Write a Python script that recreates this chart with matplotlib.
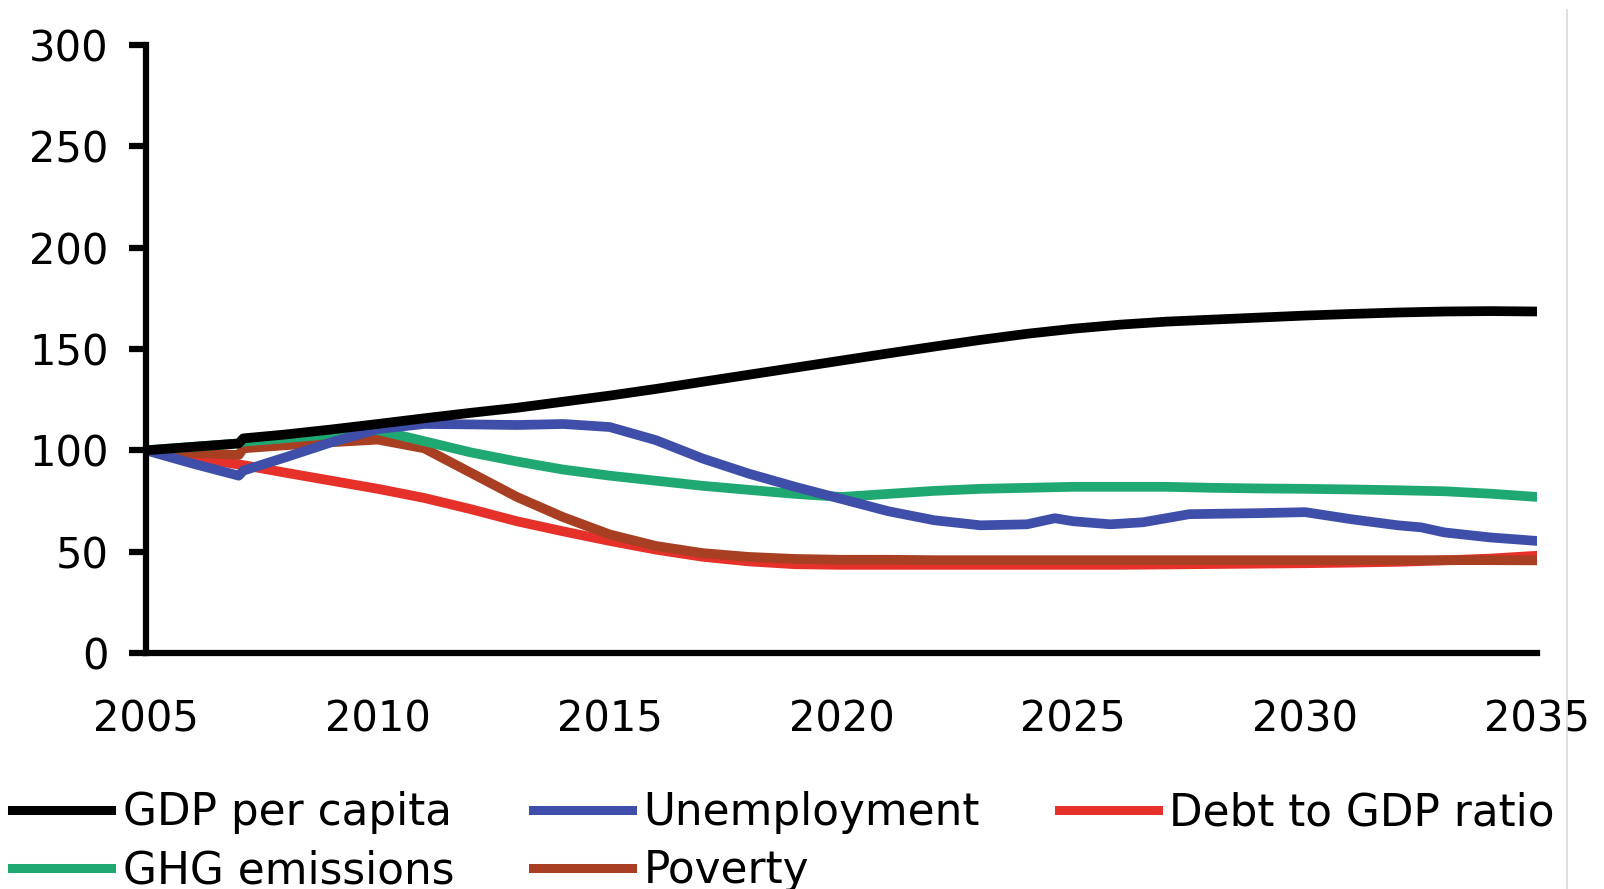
import matplotlib
matplotlib.use("Agg")
import matplotlib.pyplot as plt
from matplotlib.lines import Line2D

years = [2005, 2006, 2007, 2007.1, 2008, 2009, 2010, 2011, 2012, 2013, 2014,
         2015, 2016, 2017, 2018, 2019, 2020, 2021, 2022, 2023, 2024, 2025,
         2026, 2027, 2028, 2029, 2030, 2031, 2032, 2033, 2034, 2035]

gdp = [100, 101.7, 103.4, 105.9, 107.8, 110.3, 113, 115.8, 118.5, 121, 124,
       127, 130.3, 133.8, 137.3, 140.8, 144.3, 147.8, 151.2, 154.5, 157.5, 160,
       162, 163.5, 164.5, 165.5, 166.5, 167.3, 168, 168.5, 168.7, 168.5]

ghg = [100, 101.7, 103.4, 104.3, 106, 108, 110, 104.5, 99, 94.5, 90.5,
       87.5, 85, 82.5, 80.5, 78.5, 77, 78.5, 80, 81, 81.5, 82,
       82, 82, 81.5, 81.2, 81, 80.7, 80.3, 79.8, 78.6, 77]

debt = [100, 96.5, 93, 92.7, 89, 85, 81, 76.5, 71, 65, 60,
        55.3, 51, 47.5, 45.2, 43.8, 43.5, 43.5, 43.5, 43.5, 43.5, 43.5,
        43.5, 43.7, 43.9, 44.1, 44.3, 44.6, 45, 45.7, 46.6, 48]

poverty = [100, 98.8, 97.7, 101, 102.5, 104, 105.3, 101, 89, 77, 67,
           58.5, 52.8, 49.3, 47.4, 46.4, 46, 46, 45.8, 45.8, 45.8, 45.8,
           45.8, 45.8, 45.8, 45.8, 45.8, 45.8, 45.8, 45.8, 45.8, 45.7]

unemp_years = [2005, 2006, 2007, 2007.1, 2008, 2009, 2010, 2011, 2012, 2013,
               2014, 2015, 2016, 2017, 2018, 2019, 2020, 2021, 2022, 2023,
               2024, 2024.6, 2025, 2025.8, 2026.5, 2027, 2027.5, 2029, 2030,
               2031, 2032, 2032.5, 2033, 2034, 2035]
unemp = [100, 93.5, 87.5, 90, 96.5, 104, 110.5, 113, 112.8, 112.5,
         113, 111.5, 105, 96, 88.5, 82, 76, 70, 65.5, 63,
         63.5, 66.5, 65, 63.5, 64.5, 66.5, 68.5, 69, 69.5,
         66, 63, 62, 59.5, 57, 55.3]

colors = {"GDP per capita": "#000000", "Unemployment": "#3f4ea8",
          "Debt to GDP ratio": "#e5312a", "GHG emissions": "#20a873",
          "Poverty": "#a83f22"}

plt.rcParams['font.family'] = ['DejaVu Sans']

fig = plt.figure(figsize=(16.04, 8.89), dpi=100)
ax = fig.add_axes([146 / 1604, 1 - 653 / 889, (1537 - 146) / 1604, (653 - 45) / 889])

lw = 7
ax.plot(years, gdp, color=colors["GDP per capita"], lw=lw, zorder=5)
ax.plot(years, ghg, color=colors["GHG emissions"], lw=lw, zorder=4)
ax.plot(unemp_years, unemp, color=colors["Unemployment"], lw=lw, zorder=4)
ax.plot(years, debt, color=colors["Debt to GDP ratio"], lw=lw, zorder=3)
ax.plot(years, poverty, color=colors["Poverty"], lw=lw, zorder=3)

ax.set_xlim(2005, 2035)
ax.set_ylim(0, 300)
ax.set_xticks(range(2005, 2036, 5))
ax.set_yticks(range(0, 301, 50))

for s in ["top", "right"]:
    ax.spines[s].set_visible(False)
for s in ["left", "bottom"]:
    ax.spines[s].set_linewidth(4.5)
    ax.spines[s].set_zorder(6)

ax.tick_params(axis="y", length=12, width=4.5, pad=15, labelsize=30)
ax.tick_params(axis="x", length=0, pad=33, labelsize=30)

# matplotlib fills legend columns first, so order gives rows:
# GDP / Unemployment / Debt, then GHG / Poverty
order = ["GDP per capita", "GHG emissions", "Unemployment", "Poverty",
         "Debt to GDP ratio"]
leg_handles = [Line2D([], [], color=colors[k], lw=6.5) for k in order]
fig.legend(leg_handles, order, loc="upper left", bbox_to_anchor=(0.0075, 0.11),
           ncol=3, frameon=False, fontsize=31.5, handlelength=2.26,
           handletextpad=0.27, columnspacing=1.8, labelspacing=0.34,
           borderpad=0, borderaxespad=0)

fig.add_artist(Line2D([1567 / 1604, 1567 / 1604], [0, 1 - 10 / 889],
                      transform=fig.transFigure, color="#d9d9d9", lw=1.2))

fig.savefig("out.png", dpi=100)
